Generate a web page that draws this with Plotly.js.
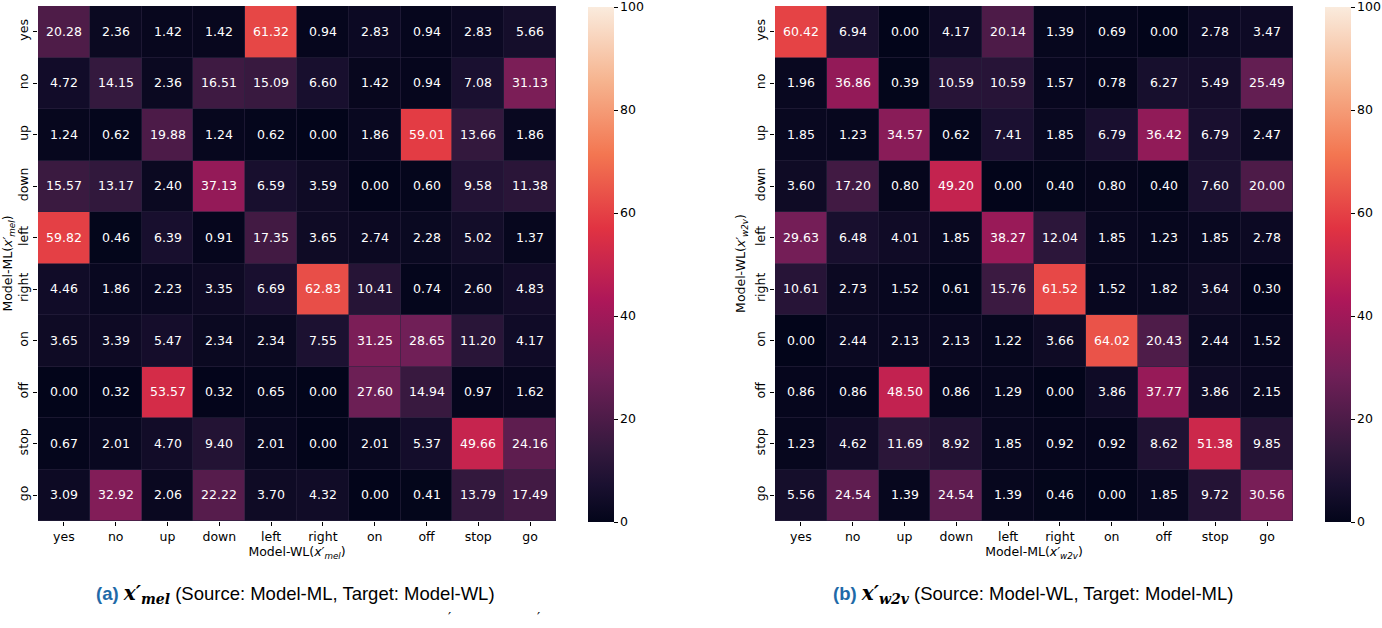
<!DOCTYPE html>
<html>
<head>
<meta charset="utf-8">
<script src="https://cdn.plot.ly/plotly-3.0.1.min.js"></script>
<style>html,body{margin:0;padding:0;background:#fff;}#chart{width:1382px;height:628px;}</style>
</head>
<body>
<div id="chart"></div>
<script>
const labels = ['yes','no','up','down','left','right','on','off','stop','go'];

const melValues = [
  [20.28, 2.36, 1.42, 1.42, 61.32, 0.94, 2.83, 0.94, 2.83, 5.66],
  [4.72, 14.15, 2.36, 16.51, 15.09, 6.60, 1.42, 0.94, 7.08, 31.13],
  [1.24, 0.62, 19.88, 1.24, 0.62, 0.00, 1.86, 59.01, 13.66, 1.86],
  [15.57, 13.17, 2.40, 37.13, 6.59, 3.59, 0.00, 0.60, 9.58, 11.38],
  [59.82, 0.46, 6.39, 0.91, 17.35, 3.65, 2.74, 2.28, 5.02, 1.37],
  [4.46, 1.86, 2.23, 3.35, 6.69, 62.83, 10.41, 0.74, 2.60, 4.83],
  [3.65, 3.39, 5.47, 2.34, 2.34, 7.55, 31.25, 28.65, 11.20, 4.17],
  [0.00, 0.32, 53.57, 0.32, 0.65, 0.00, 27.60, 14.94, 0.97, 1.62],
  [0.67, 2.01, 4.70, 9.40, 2.01, 0.00, 2.01, 5.37, 49.66, 24.16],
  [3.09, 32.92, 2.06, 22.22, 3.70, 4.32, 0.00, 0.41, 13.79, 17.49]
];

const w2vValues = [
  [60.42, 6.94, 0.00, 4.17, 20.14, 1.39, 0.69, 0.00, 2.78, 3.47],
  [1.96, 36.86, 0.39, 10.59, 10.59, 1.57, 0.78, 6.27, 5.49, 25.49],
  [1.85, 1.23, 34.57, 0.62, 7.41, 1.85, 6.79, 36.42, 6.79, 2.47],
  [3.60, 17.20, 0.80, 49.20, 0.00, 0.40, 0.80, 0.40, 7.60, 20.00],
  [29.63, 6.48, 4.01, 1.85, 38.27, 12.04, 1.85, 1.23, 1.85, 2.78],
  [10.61, 2.73, 1.52, 0.61, 15.76, 61.52, 1.52, 1.82, 3.64, 0.30],
  [0.00, 2.44, 2.13, 2.13, 1.22, 3.66, 64.02, 20.43, 2.44, 1.52],
  [0.86, 0.86, 48.50, 0.86, 1.29, 0.00, 3.86, 37.77, 3.86, 2.15],
  [1.23, 4.62, 11.69, 8.92, 1.85, 0.92, 0.92, 8.62, 51.38, 9.85],
  [5.56, 24.54, 1.39, 24.54, 1.39, 0.46, 0.00, 1.85, 9.72, 30.56]
];

const colorbarTicks = [0, 20, 40, 60, 80, 100];

const rocket = [
  [0.0, '#03051a'],
  [0.0714, '#1a1030'],
  [0.143, '#35193e'],
  [0.286, '#701f57'],
  [0.429, '#ad1759'],
  [0.571, '#e13342'],
  [0.714, '#f37651'],
  [0.857, '#f6b48f'],
  [1.0, '#faebdd']
];

const W = 1382, H = 628;
const px = v => v / W;
const py = v => 1 - v / H;
const font = 'DejaVu Sans, sans-serif';
const tickFont = {family: font, size: 12.5, color: '#000'};

function fmt(m) { return m.map(r => r.map(v => v.toFixed(2))); }

function hm(z, xa, ya, cbx) {
  return {
    type: 'heatmap', z: z, x: labels, y: labels,
    xaxis: xa, yaxis: ya,
    zmin: 0, zmax: 100, colorscale: rocket,
    xgap: 0.6, ygap: 0.6,
    text: fmt(z), texttemplate: '%{text}',
    textfont: {family: font, size: 12.5, color: '#ffffff'},
    hoverinfo: 'skip',
    colorbar: {
      x: px(cbx), xanchor: 'left', xref: 'paper',
      y: py(264.5), yanchor: 'middle', yref: 'paper',
      thickness: 26, thicknessmode: 'pixels',
      len: 515, lenmode: 'pixels',
      outlinewidth: 0,
      tickmode: 'array',
      tickvals: colorbarTicks, ticktext: colorbarTicks.map(String),
      ticks: 'outside', ticklen: 4, tickwidth: 1, tickcolor: '#000',
      ticklabeloverflow: 'allow',
      tickfont: tickFont, xpad: 0, ypad: 0
    }
  };
}

const data = [hm(melValues, 'x', 'y', 588), hm(w2vValues, 'x2', 'y2', 1325)];

function xax(d0, d1, title, anchor) {
  return {
    domain: [px(d0), px(d1)], anchor: anchor,
    type: 'category', categoryorder: 'array', categoryarray: labels,
    showgrid: false, zeroline: false, showline: false,
    ticks: 'outside', ticklen: 4, tickcolor: '#000', tickwidth: 1,
    tickfont: tickFont, tickangle: 0,
    title: {text: title, font: tickFont, standoff: 2},
    automargin: false,
    fixedrange: true
  };
}
function yax(title, anchor) {
  return {
    domain: [py(521), py(6)], anchor: anchor,
    type: 'category', categoryorder: 'array', categoryarray: labels,
    autorange: 'reversed',
    showgrid: false, zeroline: false, showline: false,
    ticks: 'outside', ticklen: 4, tickcolor: '#000', tickwidth: 1,
    tickfont: tickFont, tickangle: -90,
    title: {text: title, font: tickFont, standoff: 4},
    automargin: false,
    fixedrange: true
  };
}

const capFont = {family: 'Liberation Sans, Arial, sans-serif', size: 18.5, color: '#000'};
const mathStyle = 'font-family:DejaVu Serif, serif;font-size:20px';
const subStyle = 'font-family:DejaVu Serif, serif;font-size:14px';

function caption(tag, sub, rest) {
  return '<b><span style="color:#1f6aa8">' + tag + '</span></b> ' +
    '<b><i><span style="' + mathStyle + '">x′</span></i></b>' +
    '<sub><b><i><span style="' + subStyle + '">' + sub + '</span></i></b></sub> ' + rest;
}

const layout = {
  width: W, height: H,
  margin: {l: 0, r: 0, t: 0, b: 0, pad: 0, autoexpand: false},
  paper_bgcolor: '#ffffff', plot_bgcolor: '#2a2440',
  showlegend: false,
  xaxis: xax(38, 556, 'Model-WL(<i>x′</i><sub><i>mel</i></sub>)', 'y'),
  yaxis: yax('Model-ML(<i>x′</i><sub><i>mel</i></sub>)', 'x'),
  xaxis2: xax(775, 1293, 'Model-ML(<i>x′</i><sub><i>w2v</i></sub>)', 'y2'),
  yaxis2: yax('Model-WL(<i>x′</i><sub><i>w2v</i></sub>)', 'x2'),
  annotations: [
    {xref: 'paper', yref: 'paper', x: px(295), y: py(594), xanchor: 'center', yanchor: 'middle', showarrow: false,
     font: capFont, text: caption('(a)', 'mel', '(Source: Model-ML, Target: Model-WL)')},
    {xref: 'paper', yref: 'paper', x: px(1033), y: py(594), xanchor: 'center', yanchor: 'middle', showarrow: false,
     font: capFont, text: caption('(b)', 'w2v', '(Source: Model-WL, Target: Model-ML)')},
    {xref: 'paper', yref: 'paper', x: px(449), y: py(628), xanchor: 'center', yanchor: 'bottom', showarrow: false,
     font: {family: 'DejaVu Serif, serif', size: 14, color: '#000'}, text: '′'},
    {xref: 'paper', yref: 'paper', x: px(538), y: py(628), xanchor: 'center', yanchor: 'bottom', showarrow: false,
     font: {family: 'DejaVu Serif, serif', size: 14, color: '#000'}, text: '′'}
  ]
};

Plotly.newPlot('chart', data, layout, {displayModeBar: false, staticPlot: true});
</script>
</body>
</html>
